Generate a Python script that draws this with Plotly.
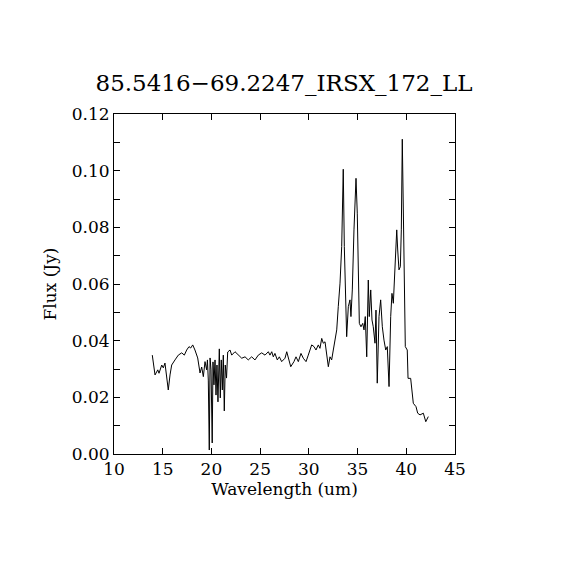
import plotly.graph_objects as go

# 光譜資料
wavelength = [13.93, 14.21, 14.49, 14.62, 14.90, 15.06, 15.23, 15.57, 15.75, 15.92,
              16.26, 16.60, 16.95, 17.22, 17.46, 17.70, 17.87, 18.08, 18.31, 18.59,
              18.83, 19.00, 19.17, 19.34, 19.51,
              19.59, 19.68, 19.78, 19.86, 19.96, 20.08, 20.16, 20.26, 20.37, 20.47,
              20.57, 20.67, 20.81, 20.91, 21.01, 21.12, 21.22, 21.32, 21.42, 21.55,
              21.67,
              21.91, 22.08, 22.42, 22.76, 23.11, 23.45, 23.78, 24.13, 24.47, 24.81,
              25.16, 25.50, 25.84, 26.01, 26.19, 26.35, 26.52, 26.76, 26.97, 27.21,
              27.55, 27.73, 27.89, 28.14, 28.47, 28.68, 28.92, 29.19, 29.43, 29.71,
              29.94, 30.29, 30.53, 30.73, 30.97, 31.14, 31.32, 31.48, 31.66, 31.83,
              32.00, 32.17, 32.34, 32.51, 32.68, 32.86, 33.02, 33.20, 33.37, 33.46,
              33.53, 33.64, 33.78, 33.88, 34.05, 34.22, 34.32, 34.46, 34.63, 34.77,
              34.84, 34.97, 35.07, 35.18, 35.35, 35.53, 35.66, 35.79, 35.94, 36.10,
              36.20, 36.35, 36.48, 36.61, 36.79, 36.89, 37.02, 37.20, 37.37, 37.54,
              37.71, 37.89, 38.05, 38.23, 38.40, 38.53, 38.67, 38.84, 39.02, 39.12,
              39.25, 39.39, 39.49, 39.59, 39.69, 39.80, 39.90, 40.10, 40.18, 40.45,
              40.72, 41.00, 41.17, 41.41, 41.75, 42.00, 42.26]

flux = [0.0349, 0.0279, 0.0297, 0.0285, 0.0314, 0.0304, 0.0321, 0.0226, 0.0279, 0.0314,
        0.0332, 0.0349, 0.0357, 0.0349, 0.0367, 0.0379, 0.0374, 0.0385, 0.0367, 0.0339,
        0.0286, 0.0307, 0.0273, 0.0326, 0.0297,
        0.0332, 0.0261, 0.0014, 0.0339, 0.0297, 0.0039, 0.0325, 0.0244, 0.0332, 0.0208,
        0.0314, 0.0184, 0.0371, 0.0198, 0.0332, 0.0226, 0.0349, 0.0152, 0.0314, 0.0268,
        0.0360,
        0.0367, 0.0349, 0.0361, 0.0349, 0.0338, 0.0343, 0.0332, 0.0343, 0.0332, 0.0349,
        0.0357, 0.0349, 0.0361, 0.0349, 0.0361, 0.0343, 0.0355, 0.0332, 0.0343, 0.0326,
        0.0338, 0.0361, 0.0343, 0.0308, 0.0326, 0.0343, 0.0326, 0.0355, 0.0338, 0.0326,
        0.0349, 0.0385, 0.0379, 0.0367, 0.0385, 0.0373, 0.0408, 0.0391, 0.0396, 0.0349,
        0.0308, 0.0343, 0.0332, 0.0367, 0.0402, 0.0438, 0.0520, 0.0603, 0.0732, 0.0908,
        0.1005, 0.0732, 0.0520, 0.0414, 0.0520, 0.0544, 0.0485, 0.0579, 0.0791, 0.0938,
        0.0973, 0.0850, 0.0603, 0.0461, 0.0449, 0.0461, 0.0438, 0.0485, 0.0343, 0.0614,
        0.0485, 0.0579, 0.0473, 0.0449, 0.0391, 0.0508, 0.0250, 0.0485, 0.0544, 0.0449,
        0.0402, 0.0367, 0.0379, 0.0238, 0.0485, 0.0567, 0.0532, 0.0638, 0.0791, 0.0720,
        0.0650, 0.0661, 0.0791, 0.1111, 0.0920, 0.0567, 0.0379, 0.0367, 0.0267, 0.0267,
        0.0179, 0.0167, 0.0144, 0.0138, 0.0144, 0.0114, 0.0132]

title_text = '85.5416\u221269.2247_IRSX_172_LL'
font_name = 'DejaVu Serif'

fig = go.Figure()
fig.add_trace(go.Scatter(
    x=wavelength,
    y=flux,
    mode='lines',
    line=dict(color='black', width=1),
    showlegend=False
))

axis_style = dict(
    showline=True,
    linecolor='black',
    linewidth=1,
    mirror='ticks',
    ticks='inside',
    ticklen=6,
    tickcolor='black',
    showgrid=False,
    zeroline=False,
    tickfont=dict(family=font_name, size=17, color='black'),
)

fig.update_layout(
    width=570,
    height=570,
    paper_bgcolor='white',
    plot_bgcolor='white',
    # 頁面有8px的body邊界，所以往左上移
    margin=dict(l=106, r=123, t=106, b=124),
    title=dict(
        text=title_text,
        x=(106 + 170) / 570,
        xanchor='center',
        y=1 - 75 / 570,
        yanchor='middle',
        font=dict(family=font_name, size=23, color='black')
    ),
    xaxis=dict(
        range=[10, 45],
        dtick=5,
        title=dict(text='Wavelength (um)', font=dict(family=font_name, size=17, color='black'), standoff=4),
        **axis_style
    ),
    yaxis=dict(
        range=[0, 0.12],
        dtick=0.02,
        tickformat='.2f',
        minor=dict(dtick=0.01, ticks='inside', ticklen=6, tickcolor='black'),
        title=dict(text='Flux (Jy)', font=dict(family=font_name, size=17, color='black'), standoff=10),
        **axis_style
    ),
)

fig.write_html('out.html')
